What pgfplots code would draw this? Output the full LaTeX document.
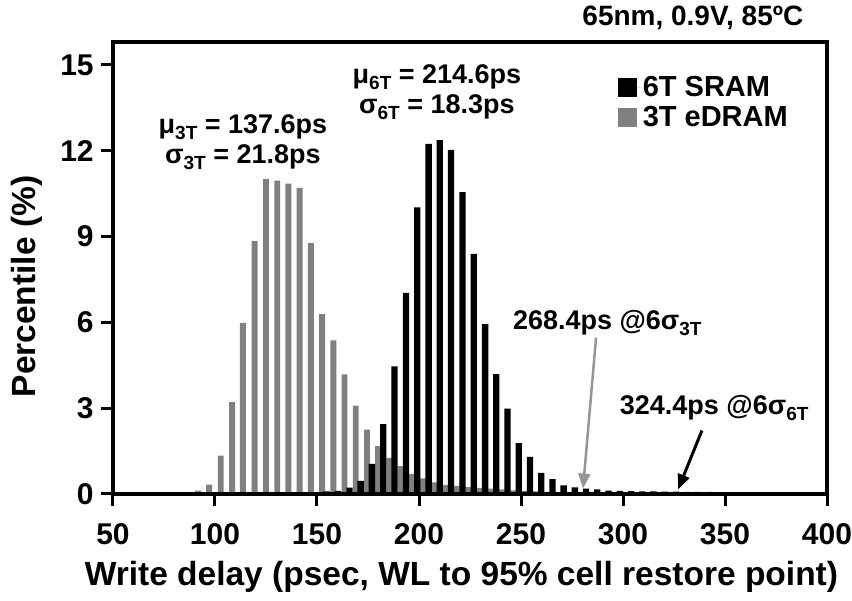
\documentclass[border=0pt]{standalone}
\usepackage{pgfplots}
\pgfplotsset{compat=1.18}
\usepackage{pgfplotstable}
\usepackage{fontspec}
\setmainfont{Liberation Sans}
\usetikzlibrary{arrows.meta}
\definecolor{barGray}{RGB}{128,128,128}
\definecolor{arrowGray}{RGB}{150,150,150}
\newcommand{\sub}[1]{\raisebox{-0.22em}{\fontsize{19}{19}\selectfont #1}}

\pgfplotstableread{
x y
91.7 0.12
97.1 0.33
102.8 1.34
108.4 3.22
113.7 5.98
119.4 8.85
125.0 11.01
130.5 10.95
136.0 10.85
141.5 10.70
147.0 8.77
152.5 6.29
158.0 5.37
163.5 4.18
169.0 3.09
174.5 2.25
180.0 1.67
185.5 1.26
191.0 0.97
196.5 0.70
202.0 0.55
207.5 0.41
213.0 0.32
218.5 0.28
224.0 0.24
229.5 0.21
235.0 0.19
240.5 0.16
246.0 0.13
251.5 0.11
257.0 0.09
262.5 0.07
268.0 0.05
}\grayData

\pgfplotstableread{
x y
143.8 0.04
149.3 0.06
154.8 0.09
160.3 0.11
165.9 0.22
171.4 0.46
176.9 1.05
182.5 2.44
188.0 4.46
193.6 7.03
199.1 10.02
204.7 12.24
210.2 12.37
215.7 12.03
221.3 10.55
226.8 8.39
232.4 5.94
237.9 4.19
243.4 2.98
248.9 1.78
254.4 1.30
259.9 0.74
265.4 0.52
270.9 0.30
276.4 0.23
281.9 0.19
287.4 0.16
292.9 0.12
298.4 0.11
303.9 0.10
309.4 0.09
314.9 0.09
320.4 0.08
325.9 0.08
331.4 0.07
336.9 0.07
342.4 0.07
347.9 0.06
353.4 0.06
358.9 0.06
}\blackData

\begin{document}
\begin{tikzpicture}
\begin{axis}[
  scale only axis, width=714pt, height=452pt,
  xmin=50, xmax=400, ymin=0, ymax=15.8,
  xtick={50,100,...,400}, ytick={0,3,...,15},
  line width=4pt,
  every outer x axis line/.append style={line width=4pt, line cap=rect},
  every outer y axis line/.append style={line width=4pt, line cap=rect},
  axis line style={line width=4pt, line cap=rect},
  tick pos=left, tick align=outside,
  major tick length=12pt,
  tick style={line width=3pt, black},
  /pgf/number format/assume math mode=true,
  tick label style={font=\fontsize{30}{30}\selectfont\bfseries},
  xticklabel style={yshift=-12pt},
  yticklabel style={xshift=-2pt},
  clip=false,
  axis on top,
  legend style={draw=none, fill=none, at={(rel axis cs:0.707,0.928)}, anchor=north west,
    font=\fontsize{29}{29}\selectfont\bfseries, row sep=4pt, inner sep=0pt, outer sep=0pt},
  legend cell align=left,
  reverse legend,
]
\addplot[ybar, bar width=2.9, bar shift=0pt, fill=barGray, draw=none,
  legend image code/.code={\fill[barGray] (0pt,-9.5pt) rectangle (19pt,9.5pt); \path (0pt,0pt) -- (23pt,0pt);}]
  table[x=x,y=y]{\grayData};
\addlegendentry{3T eDRAM}
\addplot[ybar, bar width=3.1, bar shift=0pt, fill=black, draw=none,
  legend image code/.code={\fill[black] (0pt,-9.5pt) rectangle (19pt,9.5pt); \path (0pt,0pt) -- (23pt,0pt);}]
  table[x=x,y=y]{\blackData};
\addlegendentry{6T SRAM}

\node[font=\fontsize{27}{30}\selectfont\bfseries, align=center] at (axis cs:113.7,12.31)
  {μ\sub{3T} = 137.6ps\\σ\sub{3T} = 21.8ps};
\node[font=\fontsize{27}{30}\selectfont\bfseries, align=center] at (axis cs:208.8,14.04)
  {μ\sub{6T} = 214.6ps\\σ\sub{6T} = 18.3ps};
\node[anchor=east, inner sep=0pt, outer sep=0pt, font=\fontsize{28}{28}\selectfont\bfseries] at (axis cs:388.4,16.64)
  {65nm, 0.9V, 85ºC};
\node[anchor=west, inner sep=0pt, outer sep=0pt, font=\fontsize{27}{27}\selectfont\bfseries] at (axis cs:246.1,5.99)
  {268.4ps @6σ\sub{3T}};
\node[anchor=west, inner sep=0pt, outer sep=0pt, font=\fontsize{27}{27}\selectfont\bfseries] at (axis cs:298.5,3.02)
  {324.4ps @6σ\sub{6T}};
\draw[arrowGray, line width=2.5pt, -{Triangle[length=15pt,width=12pt]}] (axis cs:286.8,5.47) -- (axis cs:280.4,0.19);
\draw[black, line width=3pt, -{Triangle[length=15pt,width=12pt]}] (axis cs:338.7,2.22) -- (axis cs:327.0,0.16);

\node[font=\fontsize{33.5}{33.5}\selectfont\bfseries] at (rel axis cs:0.488,0) [yshift=-82.5pt]
  {Write delay (psec, WL to 95\% cell restore point)};
\node[font=\fontsize{33.5}{33.5}\selectfont\bfseries, xshift=-86pt, rotate=90] at (rel axis cs:0,0.459)
  {Percentile (\%)};
\end{axis}
\pgfresetboundingbox
\path[use as bounding box] (-113pt,-107pt) rectangle (739pt,494pt);
\end{tikzpicture}
\end{document}
